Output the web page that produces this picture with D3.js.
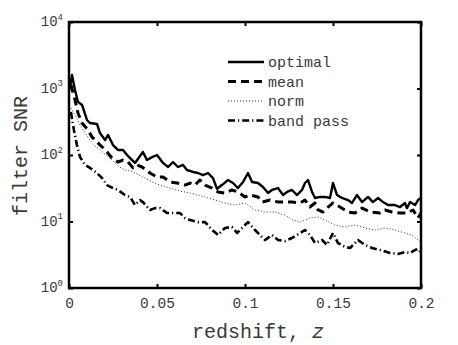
<!DOCTYPE html>
<html><head><meta charset="utf-8">
<script src="https://cdn.jsdelivr.net/npm/d3@7"></script>
<style>body{margin:0;background:#fff}svg{display:block}</style>
</head><body><svg id="c" width="458" height="345"></svg>
<script>
const seriesNames = ["optimal", "mean", "norm", "band pass"];
const xTicks = [0, 0.05, 0.1, 0.15, 0.2];
const xTickLabels = ["0", "0.05", "0.1", "0.15", "0.2"];
const yTicks = [1, 10, 100, 1000, 10000];
const yTickExps = ["0", "1", "2", "3", "4"];

const zOptimal = [0.0006,0.0017,0.0034,0.0051,0.0074,0.0102,0.0119,0.0159,0.0176,0.0205,0.0222,0.025,0.0278,0.0307,0.033,0.0347,0.0375,0.042,0.0443,0.0472,0.05,0.0534,0.0563,0.0591,0.0619,0.0648,0.067,0.0705,0.0733,0.0761,0.079,0.0818,0.0841,0.0869,0.0903,0.0932,0.096,0.0989,0.1017,0.104,0.1074,0.1102,0.1131,0.1153,0.1188,0.1216,0.1239,0.1267,0.1295,0.1324,0.1341,0.1358,0.1381,0.1398,0.1426,0.1455,0.1483,0.15,0.1523,0.1551,0.1585,0.1608,0.1636,0.1665,0.1699,0.1727,0.1756,0.1784,0.1813,0.1852,0.1881,0.1909,0.192,0.1938,0.1966,0.1983,0.2];
const optimal = [1020,1600,950,630,565,336,303,293,214,168,200,141,119,119,100,90,76,111,84,93,100,76,66,78.5,66,70.8,59.5,55.6,53.6,50,53.6,45,31,35.3,42,37.9,31.8,39.3,53.6,39.3,37.9,33,26.8,29.8,31.8,25,27.8,29.8,25,29.8,37.9,42,27.8,22.6,23.4,23.4,22.6,37.9,25,22.6,21,19,25,19.6,23.4,19.6,22.6,19.6,17.7,17.7,16.5,19,15.9,19.6,17.7,21,22.6];

const zMean = [0.0011,0.0034,0.0051,0.0074,0.0108,0.0131,0.0159,0.0188,0.0216,0.0244,0.0278,0.0307,0.0335,0.0364,0.0386,0.0415,0.046,0.05,0.0534,0.0574,0.0614,0.0659,0.0688,0.0716,0.0744,0.0773,0.0813,0.0847,0.0886,0.0926,0.096,0.1,0.1028,0.1074,0.1097,0.1142,0.1188,0.1227,0.1267,0.1313,0.1341,0.1369,0.1398,0.1415,0.1443,0.1472,0.15,0.154,0.1585,0.1625,0.1665,0.171,0.1767,0.1795,0.1835,0.1881,0.192,0.1955,0.1983,0.2];
const mean = [1130,672,428,303,238,186,157,132,111,90,78.5,84,78.5,64,70.8,66,53.6,46.7,46.7,39.3,37.9,35.3,37.9,35.3,42,35.3,31.8,27.8,26.8,29.8,27.8,23.4,25,23.4,19.6,21,19.6,19.6,19.6,19,21,16.5,19,14.9,13.9,16.5,19,16.5,13.9,13.4,15.9,13.9,13.4,14.9,13.9,13.4,13.4,14.9,11.3,13.4];

const zNorm = [0.0011,0.0034,0.0063,0.0091,0.0119,0.0148,0.0176,0.021,0.0244,0.0278,0.0318,0.0352,0.0386,0.042,0.046,0.0517,0.0574,0.0631,0.0688,0.0733,0.0773,0.083,0.0886,0.0943,0.1,0.1057,0.1114,0.117,0.1227,0.1273,0.1313,0.1369,0.1415,0.1455,0.1511,0.1568,0.1625,0.1682,0.1739,0.1795,0.1852,0.1909,0.1949,0.1983,0.2];
const norm = [509,399,283,214,168,136,119,100,84,68,59.5,57.5,51.8,46.7,40.7,35.3,31.8,28.7,26.8,25,23.4,21,19,17.7,19,14.9,13.9,13.9,12.5,10.5,9.8,11.3,11.7,10.5,8.86,8.27,8.86,7.99,7.45,7.99,7.45,6.72,6.27,5.27,4.92];

const zBand = [0.0011,0.0028,0.0045,0.0063,0.0091,0.0119,0.0159,0.0188,0.0216,0.025,0.0278,0.0318,0.0347,0.0375,0.0403,0.042,0.046,0.0489,0.0517,0.0557,0.0585,0.0631,0.0659,0.0688,0.0733,0.0773,0.0813,0.0847,0.0886,0.0926,0.0955,0.0983,0.1017,0.1057,0.1085,0.1114,0.1153,0.1188,0.1227,0.1267,0.1313,0.1341,0.1369,0.1398,0.1438,0.1466,0.15,0.1528,0.1568,0.1597,0.1625,0.1642,0.1682,0.1722,0.1767,0.1824,0.1869,0.1909,0.1938,0.1966,0.1983,0.2];
const bandPass = [443,238,141,93,70.8,64,53.6,45,35.3,31.8,29.8,25,23.4,17.7,21,19.6,14.9,15.9,15.9,13.4,13.4,13.4,11.3,10.5,9.8,9.8,7.45,6.27,7.99,8.27,6.72,7.99,9.8,7.45,6.27,5.27,6.27,5.27,5.09,5.65,6.72,7.45,6.27,4.75,5.27,4.43,6.72,4.75,4.14,4.0,4.75,5.27,4.43,4.0,3.73,3.36,3.25,3.48,3.36,3.73,3.86,3.36];

const series = [
  {name: seriesNames[0], z: zOptimal, v: optimal},
  {name: seriesNames[1], z: zMean, v: mean},
  {name: seriesNames[2], z: zNorm, v: norm},
  {name: seriesNames[3], z: zBand, v: bandPass}
];
const styles = [
  {w: 2.4, dash: null},
  {w: 3, dash: "8,5"},
  {w: 1, dash: "1,2"},
  {w: 2.6, dash: "7,3,1.2,3"}
];

const L = 69, R = 421, T = 22, B = 288;
const svg = d3.select("#c");
const x = d3.scaleLinear().domain([0, 0.2]).range([L, R]);
const y = d3.scaleLog().domain([1, 10000]).range([B, T]);
const mono = "'Liberation Mono', 'Courier New', monospace";
const txt = "#3a3a3a";

svg.append("defs").append("clipPath").attr("id", "clip")
  .append("rect").attr("x", L).attr("y", T).attr("width", R - L).attr("height", B - T);

const line = d3.line().x(d => x(d[0])).y(d => y(d[1]));
const g = svg.append("g").attr("clip-path", "url(#clip)");
series.forEach((s, i) => {
  const pts = s.z.map((z, k) => [z, s.v[k]]);
  g.append("path").datum(pts).attr("d", line)
    .attr("fill", "none").attr("stroke", i === 2 ? "#333" : "#000")
    .attr("stroke-width", styles[i].w)
    .attr("stroke-linejoin", "round")
    .attr("stroke-dasharray", styles[i].dash);
});

// axes
const xb = svg.append("g").attr("transform", `translate(0,${B})`)
  .call(d3.axisBottom(x).tickValues(xTicks).tickSize(-4).tickPadding(10)
    .tickFormat((d, i) => xTickLabels[i]));
const xt = svg.append("g").attr("transform", `translate(0,${T})`)
  .call(d3.axisTop(x).tickValues(xTicks).tickSize(-4).tickFormat(""));
const yl = svg.append("g").attr("transform", `translate(${L},0)`)
  .call(d3.axisLeft(y).tickValues(yTicks).tickSize(-4).tickPadding(6).tickFormat(""));
const yr = svg.append("g").attr("transform", `translate(${R},0)`)
  .call(d3.axisRight(y).tickValues(yTicks).tickSize(-4).tickFormat(""));
[xb, xt, yl, yr].forEach(a => {
  a.select(".domain").remove();
  a.selectAll(".tick line").attr("stroke", "#000").attr("stroke-width", 2);
});
xb.selectAll("text").attr("font-family", mono).attr("font-size", 14.5).attr("fill", txt);

yl.selectAll(".tick").each(function(d, i) {
  const t = d3.select(this).append("text").attr("x", -6).attr("dy", "0.35em")
    .attr("text-anchor", "end").attr("font-family", mono).attr("fill", txt);
  t.append("tspan").attr("font-size", 14).text("10");
  t.append("tspan").attr("font-size", 9).attr("dy", "-0.7em").text(yTickExps[i]);
});

// frame
svg.append("rect").attr("x", L).attr("y", T).attr("width", R - L).attr("height", B - T)
  .attr("fill", "none").attr("stroke", "#000").attr("stroke-width", 2.5);

// legend
const lg = svg.append("g");
const ly0 = 62, ldy = 19.5;
series.forEach((s, i) => {
  const yy = ly0 + i * ldy;
  lg.append("line").attr("x1", 228).attr("x2", 264).attr("y1", yy).attr("y2", yy)
    .attr("stroke", i === 2 ? "#333" : "#000").attr("stroke-width", styles[i].w)
    .attr("stroke-dasharray", styles[i].dash);
  lg.append("text").attr("x", 268).attr("y", yy).attr("dy", "0.35em")
    .attr("font-family", mono).attr("font-size", 15).attr("fill", txt).text(s.name);
});

// axis titles
svg.append("text").attr("x", 258).attr("y", 338).attr("text-anchor", "middle")
  .attr("font-family", mono).attr("font-size", 20).attr("fill", txt)
  .text("redshift, ").append("tspan").attr("font-style", "italic").text("z");
svg.append("text").attr("transform", "translate(27,156) rotate(-90)")
  .attr("text-anchor", "middle").attr("font-family", mono).attr("font-size", 20)
  .attr("fill", txt).text("filter SNR");
</script></body></html>
